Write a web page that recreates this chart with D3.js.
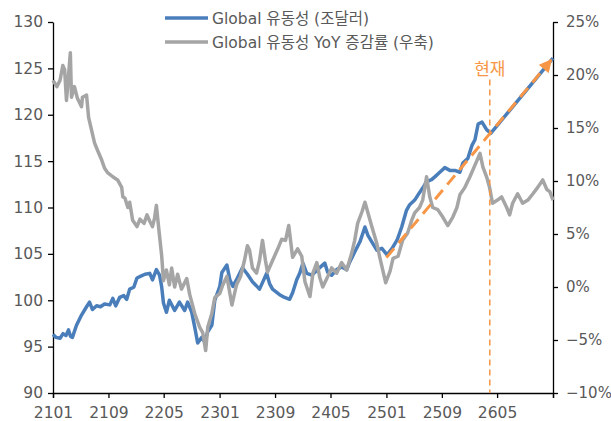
<!DOCTYPE html>
<html lang="ko">
<head>
<meta charset="utf-8">
<title>Global 유동성</title>
<style>
body { margin: 0; background: #fff; }
text { font-family: "DejaVu Sans", "Noto Sans CJK KR", sans-serif; fill: #595959; }
.axis path, .axis line { stroke: #000; stroke-width: 1.3px; }
.axis text { font-size: 15.5px; fill: #595959; }
.axis.right text { font-size: 15px; }
.legend text { font-size: 15.5px; }
</style>
</head>
<body>
<div id="chart"></div>
<script src="https://d3js.org/d3.v7.min.js"></script>
<script>

// x tick labels (YYMM)
var xTickLabels = ["2101", "2109", "2205", "2301", "2309", "2405", "2501", "2509", "2605", "2701"];
var leftTicks = [90, 95, 100, 105, 110, 115, 120, 125, 130];
var rightTicks = [-0.10, -0.05, 0, 0.05, 0.10, 0.15, 0.20, 0.25];

// Global 유동성 (조달러) - left axis
var liqDates = ["2021-01-01","2021-01-14","2021-02-01","2021-02-14","2021-02-27","2021-03-10","2021-03-19","2021-03-27","2021-04-14","2021-05-06",
  "2021-05-28","2021-06-10","2021-06-23","2021-07-11","2021-07-28","2021-08-15","2021-09-07","2021-09-20","2021-10-03","2021-10-20",
  "2021-11-07","2021-11-20","2021-12-03","2021-12-21","2022-01-04","2022-01-21","2022-02-08","2022-03-01","2022-03-13","2022-03-30",
  "2022-04-13","2022-04-22","2022-04-30","2022-05-13","2022-05-26","2022-06-18","2022-07-09","2022-08-01","2022-08-14","2022-09-01",
  "2022-09-14","2022-09-27","2022-10-15","2022-10-28","2022-11-10","2022-11-28","2022-12-11","2023-01-02","2023-01-11","2023-02-02",
  "2023-02-15","2023-02-28","2023-03-20","2023-04-11","2023-05-03","2023-05-25","2023-06-25","2023-07-08","2023-07-26","2023-08-08",
  "2023-08-21","2023-09-21","2023-10-13","2023-11-04","2023-11-17","2023-12-05","2023-12-18","2024-01-01","2024-01-18","2024-02-09",
  "2024-03-05","2024-04-06","2024-04-19","2024-05-06","2024-05-28","2024-06-19","2024-07-11","2024-07-24","2024-08-15","2024-09-07",
  "2024-09-29","2024-10-12","2024-10-29","2024-11-20","2024-12-12","2025-01-04","2025-01-26","2025-02-17","2025-03-09","2025-03-30",
  "2025-04-13","2025-05-05","2025-05-26","2025-06-09","2025-06-26","2025-07-18","2025-08-01","2025-08-23","2025-09-14","2025-10-06",
  "2025-10-28","2025-11-19","2025-12-02","2025-12-24","2026-01-11","2026-01-24","2026-02-07","2026-02-24","2026-03-16","2026-04-03",
  "2027-01-01"];
var liqValues = [96.3,96.0,95.9,96.4,96.2,96.8,96.1,96.0,97.3,98.4,
  99.3,99.8,99.0,99.4,99.3,99.6,99.5,100.2,99.4,100.3,
  100.5,100.1,101.2,101.4,102.4,102.6,102.8,102.9,102.2,103.3,
  102.7,101.5,99.7,98.7,100.0,98.9,99.8,98.9,99.8,98.7,
  97.1,95.4,96.0,95.5,96.6,97.3,100.0,101.5,103.0,103.8,
  102.2,101.5,102.4,103.5,102.8,102.0,101.2,101.9,102.9,101.8,
  101.2,100.6,100.3,100.1,100.8,102.2,102.9,104.0,102.9,102.7,
  103.3,104.0,103.0,102.7,103.3,103.6,103.3,104.1,105.2,106.3,
  107.9,107.0,106.3,105.4,105.6,104.9,105.6,106.5,107.9,109.7,
  110.3,110.8,111.6,112.1,112.8,113.0,113.3,113.8,114.3,114.0,
  114.0,113.8,114.8,115.3,116.7,117.3,119.0,119.2,118.4,118.0,
  126.1];

// Global 유동성 YoY 증감률 (우축) - right axis, %
var yoyDates = ["2021-01-01","2021-01-18","2021-02-01","2021-02-13","2021-02-21","2021-03-01","2021-03-05","2021-03-18","2021-03-23","2021-04-05",
  "2021-04-18","2021-05-06","2021-05-10","2021-05-28","2021-06-06","2021-06-19","2021-07-02","2021-07-15","2021-08-02","2021-08-15",
  "2021-08-28","2021-09-20","2021-10-11","2021-10-29","2021-11-03","2021-11-12","2021-11-25","2021-12-03","2021-12-16","2022-01-04",
  "2022-01-17","2022-02-04","2022-02-17","2022-03-01","2022-03-13","2022-03-22","2022-03-30","2022-04-09","2022-04-22","2022-04-30",
  "2022-05-13","2022-05-26","2022-06-05","2022-06-18","2022-07-01","2022-07-18","2022-08-10","2022-08-23","2022-09-14","2022-10-06",
  "2022-10-19","2022-11-01","2022-11-10","2022-11-28","2022-12-11","2023-01-02","2023-01-15","2023-02-02","2023-02-24","2023-03-16",
  "2023-04-03","2023-04-20","2023-05-03","2023-05-12","2023-05-25","2023-06-12","2023-06-25","2023-07-08","2023-07-21","2023-07-30",
  "2023-08-21","2023-09-13","2023-09-30","2023-10-17","2023-10-31","2023-11-17","2023-12-09","2023-12-27","2024-01-10","2024-02-01",
  "2024-02-14","2024-03-02","2024-03-15","2024-03-28","2024-04-19","2024-05-06","2024-05-28","2024-06-19","2024-07-11","2024-08-02",
  "2024-08-15","2024-08-28","2024-09-16","2024-09-29","2024-10-12","2024-10-29","2024-11-20","2024-12-03","2024-12-16","2024-12-29",
  "2025-01-17","2025-01-30","2025-02-21","2025-03-13","2025-04-04","2025-04-22","2025-05-05","2025-05-26","2025-06-09","2025-06-26",
  "2025-07-10","2025-07-23","2025-08-14","2025-09-05","2025-09-27","2025-10-19","2025-11-06","2025-11-19","2025-12-11","2026-01-02",
  "2026-01-24","2026-02-15","2026-02-28","2026-03-16","2026-03-29","2026-04-11","2026-05-03","2026-05-21","2026-06-12","2026-06-25",
  "2026-07-08","2026-07-30","2026-08-21","2026-09-13","2026-10-05","2026-10-26","2026-11-17","2026-12-05","2026-12-18","2027-01-01"];
var yoyValues = [19.5,18.9,19.5,20.9,20.5,17.6,18.6,22.1,17.9,18.9,
  17.8,17.0,17.9,18.1,16.0,14.8,13.6,12.9,12.0,11.2,
  10.8,10.4,10.1,9.4,8.5,8.4,7.5,8.0,6.3,5.7,
  6.4,6.0,6.8,6.2,5.7,6.5,7.7,5.6,3.0,0.6,
  1.6,0.2,1.8,0.0,1.2,-0.2,0.8,-0.7,-2.5,-3.8,
  -4.3,-6.0,-3.8,-2.5,-1.0,-0.6,0.2,1.0,-1.7,0.2,
  1.0,2.5,3.9,3.5,1.8,1.3,2.5,4.4,2.5,1.4,
  2.5,3.6,4.5,4.4,5.8,2.8,3.6,2.9,0.5,-0.9,
  1.3,2.3,0.9,0.0,1.0,1.8,1.3,2.3,1.6,3.2,
  4.4,6.0,7.1,8.0,7.0,5.7,4.1,2.8,1.6,0.4,
  1.5,2.7,2.9,4.4,5.1,6.3,7.0,7.5,8.2,10.4,
  8.5,7.5,7.3,6.6,5.8,6.6,7.5,8.7,9.4,10.4,
  11.5,12.6,11.3,10.4,9.4,7.9,8.2,8.5,7.5,6.8,
  7.9,8.8,7.9,8.2,8.8,9.4,10.1,9.2,9.0,8.2];

// 추세 화살표 & 현재
var trendDates = ["2025-01-01", "2026-12-24"];
var trendValues = [104.6, 125.9];
var nowDate = "2026-03-30";
var nowTop = 123.8;

var seriesNames = ["Global 유동성 (조달러)", "Global 유동성 YoY 증감률 (우축)"];
var seriesColors = ["#4a7ebb", "#a5a5a5"];

const width = 611,
    height = 421,
    margin = ({ top: 22, right: 58, bottom: 28, left: 53 });

var parse = d3.timeParse("%Y-%m-%d");
var parseTick = d3.timeParse("%y%m");

var svg = d3.select("#chart")
    .append("svg")
    .attr("width", width)
    .attr("height", height);

var x = d3.scaleTime()
    .domain([parseTick("2101"), parseTick("2701")])
    .range([margin.left, width - margin.right]);

var yL = d3.scaleLinear()
    .domain([90, 130])
    .range([height - margin.bottom, margin.top]);

var yR = d3.scaleLinear()
    .domain([-0.10, 0.25])
    .range([height - margin.bottom, margin.top]);

var liq = liqDates.map(function(d, i) { return { date: parse(d), value: liqValues[i] }; });
var yoy = yoyDates.map(function(d, i) { return { date: parse(d), value: yoyValues[i] / 100 }; });

// axes
svg.append("g")
    .attr("class", "axis")
    .attr("transform", "translate(0," + (height - margin.bottom) + ")")
    .call(d3.axisBottom(x)
      .tickValues(xTickLabels.map(parseTick))
      .tickSize(5)
      .tickPadding(5)
      .tickFormat(function(d) { var s = d3.timeFormat("%y%m")(d); return s === "2701" ? "" : s; }))
    .call(function(g) { g.selectAll("text").attr("dy", "0.95em"); });

svg.append("g")
    .attr("class", "axis")
    .attr("transform", "translate(" + margin.left + ",0)")
    .call(d3.axisLeft(yL).tickValues(leftTicks).tickSize(5).tickPadding(5).tickSizeOuter(0));

svg.append("g")
    .attr("class", "axis right")
    .attr("transform", "translate(" + (width - margin.right) + ",0)")
    .call(d3.axisRight(yR).tickValues(rightTicks).tickSize(5).tickPadding(8).tickSizeOuter(0)
      .tickFormat(d3.format(".0%")));

// lines
var lineL = d3.line()
    .x(function(d) { return x(d.date); })
    .y(function(d) { return yL(d.value); });

var lineR = d3.line()
    .x(function(d) { return x(d.date); })
    .y(function(d) { return yR(d.value); });

svg.append("path")
    .datum(liq)
    .attr("fill", "none")
    .attr("stroke", seriesColors[0])
    .attr("stroke-width", 3.5)
    .attr("stroke-linejoin", "round")
    .attr("d", lineL);

svg.append("path")
    .datum(yoy)
    .attr("fill", "none")
    .attr("stroke", seriesColors[1])
    .attr("stroke-width", 3.5)
    .attr("stroke-linejoin", "round")
    .attr("d", lineR);

// trend arrow
var orange = "#f79646";
svg.append("defs").append("marker")
    .attr("id", "arrow")
    .attr("viewBox", "0 0 10 10")
    .attr("refX", 9)
    .attr("refY", 5)
    .attr("markerUnits", "userSpaceOnUse")
    .attr("markerWidth", 14)
    .attr("markerHeight", 13)
    .attr("orient", "auto")
  .append("path")
    .attr("d", "M0,0L10,5L0,10Z")
    .attr("fill", orange);

var trend = trendDates.map(function(d, i) { return { date: parse(d), value: trendValues[i] }; });
svg.append("path")
    .datum(trend)
    .attr("fill", "none")
    .attr("stroke", orange)
    .attr("stroke-width", 3)
    .attr("stroke-dasharray", "12,7")
    .attr("marker-end", "url(#arrow)")
    .attr("d", lineL);

// 현재
svg.append("line")
    .attr("x1", x(parse(nowDate)))
    .attr("x2", x(parse(nowDate)))
    .attr("y1", yL(nowTop))
    .attr("y2", yL(90))
    .attr("stroke", orange)
    .attr("stroke-width", 1.5)
    .attr("stroke-dasharray", "6,4");

svg.append("text")
    .attr("x", x(parse(nowDate)))
    .attr("y", yL(nowTop) - 5)
    .attr("text-anchor", "middle")
    .style("font-size", "17px")
    .style("fill", orange)
    .text("현재");

// legend
var legend = svg.append("g")
    .attr("class", "legend")
    .selectAll("g")
    .data(seriesNames)
    .enter().append("g")
    .attr("transform", function(d, i) { return "translate(165," + (18 + i * 24) + ")"; });

legend.append("line")
    .attr("x1", 0)
    .attr("x2", 43)
    .attr("stroke", function(d, i) { return seriesColors[i]; })
    .attr("stroke-width", 3.5);

legend.append("text")
    .attr("x", 47)
    .attr("dy", "0.36em")
    .text(function(d) { return d; });

</script>
</body>
</html>
